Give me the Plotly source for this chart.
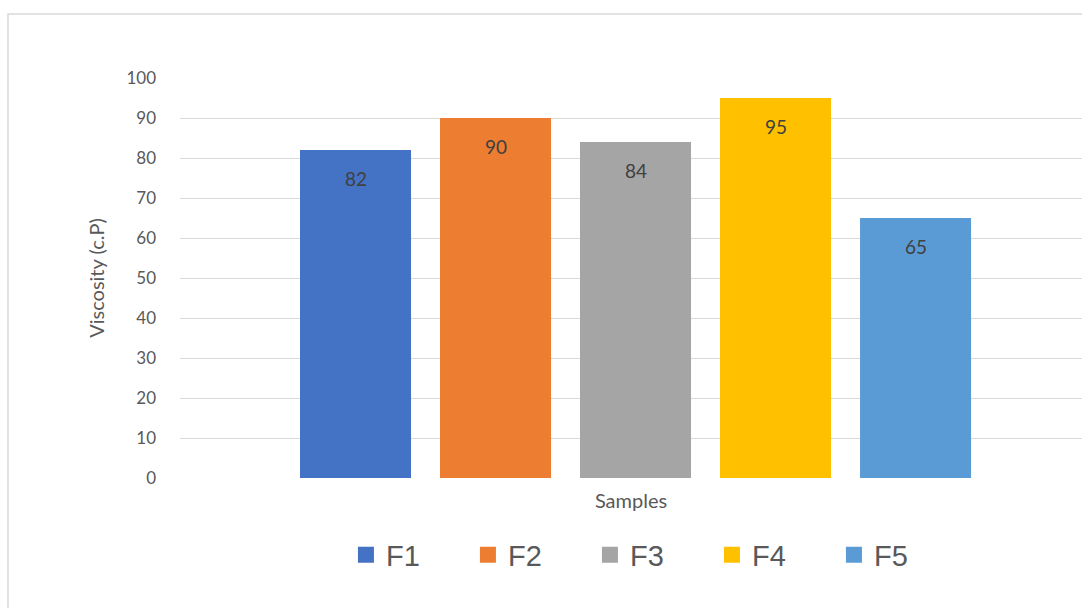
import plotly.graph_objects as go

# Viscosity of each formulation
samples = ["F1", "F2", "F3", "F4", "F5"]
viscosity = [82, 90, 84, 95, 65]
colors = ["#4472C4", "#ED7D31", "#A5A5A5", "#FFC000", "#5B9BD5"]
y_ticks = [0, 10, 20, 30, 40, 50, 60, 70, 80, 90, 100]

fig = go.Figure()

for name, val, col in zip(samples, viscosity, colors):
    fig.add_trace(go.Bar(
        x=[name], y=[val], name=name,
        marker=dict(color=col, line=dict(width=0)),
        width=0.793, showlegend=False,
    ))
    # legend proxy with a larger square swatch
    fig.add_trace(go.Scatter(
        x=[None], y=[None], mode="markers", name=name,
        marker=dict(symbol="square", size=16, color=col),
    ))
    # value label just inside the top of the bar
    fig.add_annotation(
        x=name, y=val, text=str(val), showarrow=False,
        yshift=-28, yanchor="middle",
        font=dict(family="Lato, Open Sans, sans-serif", size=19, color="#404040"),
    )

# thin chart-area border
fig.add_shape(type="rect", xref="paper", yref="paper",
              x0=-0.1907, x1=1.2, y0=-0.6, y1=1.16,
              line=dict(color="#D9D9D9", width=1.5), fillcolor="rgba(0,0,0,0)")

fig.update_layout(
    width=1082, height=608,
    margin=dict(l=180, r=0, t=78, b=130),
    paper_bgcolor="white", plot_bgcolor="white",
    barmode="overlay",
    font=dict(family="Lato, Open Sans, sans-serif", color="#595959"),
    xaxis=dict(
        type="category", categoryorder="array", categoryarray=samples,
        range=[-1.2536, 5.189], showticklabels=False, showgrid=False,
        showline=False, zeroline=False, ticks="",
        title=dict(text="Samples", font=dict(size=20, color="#595959"), standoff=15),
        automargin=False,
    ),
    yaxis=dict(
        range=[0, 100], tickvals=y_ticks, showgrid=True, gridcolor="#D9D9D9",
        gridwidth=1.3, zeroline=False, showline=False, ticks="",
        tickfont=dict(size=17, color="#595959"), ticklabelstandoff=23,
        title=dict(text="Viscosity (c.P)", font=dict(size=20, color="#595959"), standoff=16),
        automargin=False,
    ),
    legend=dict(
        orientation="h", x=0.5221, xanchor="center", y=-0.1925, yanchor="middle",
        font=dict(family="Liberation Sans, Arial, sans-serif", size=29, color="#595959"),
        itemwidth=30, entrywidth=77, entrywidthmode="pixels",
        bgcolor="rgba(0,0,0,0)",
    ),
)

fig.write_html("out.html")
